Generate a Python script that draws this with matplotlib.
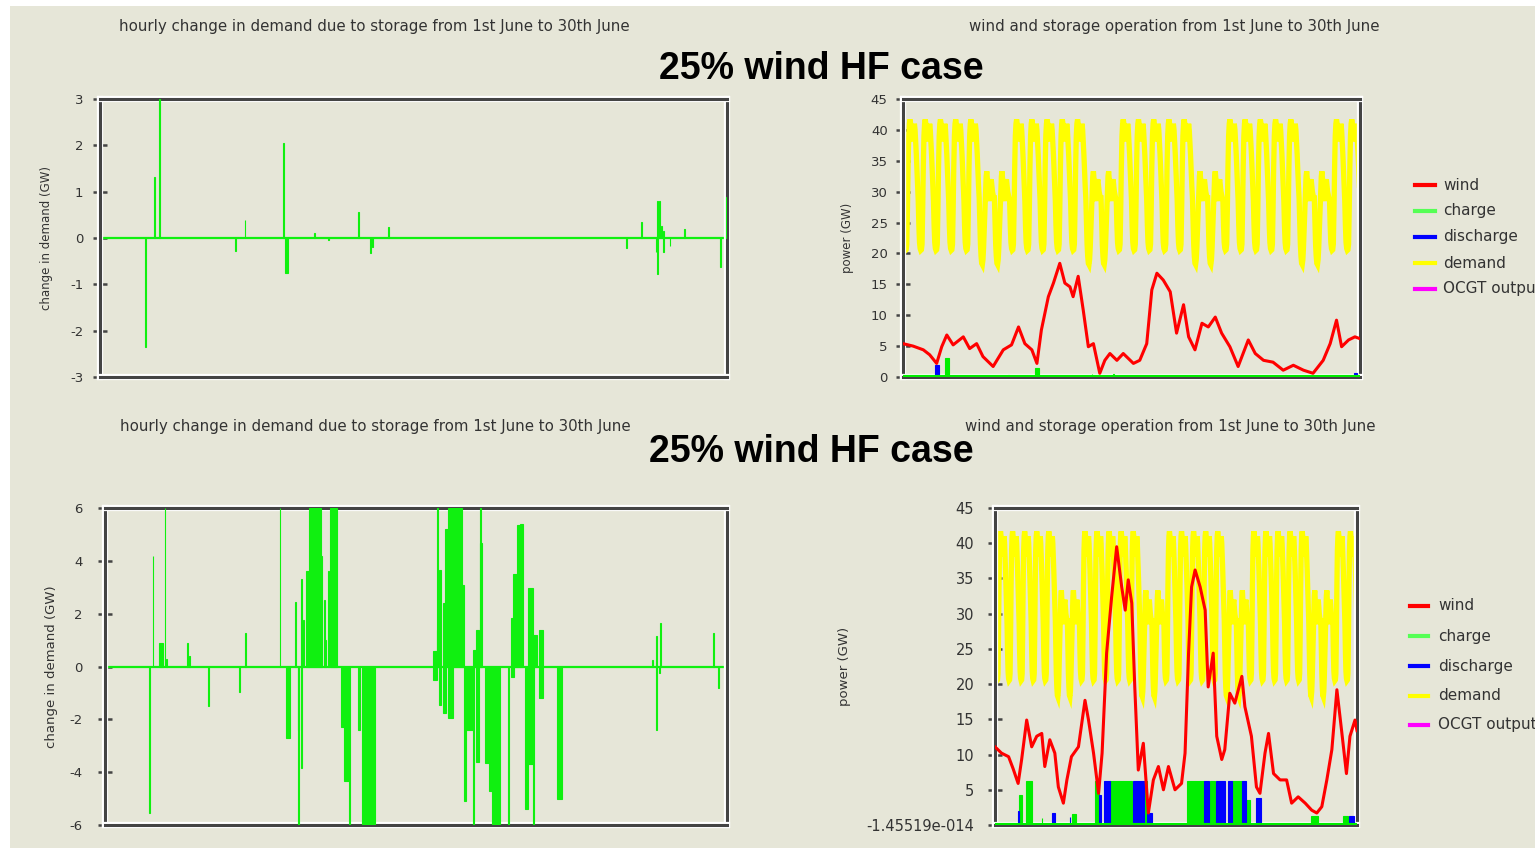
import matplotlib
matplotlib.use("Agg")
import matplotlib.pyplot as plt
import numpy as np
from matplotlib.lines import Line2D
from matplotlib.patches import Rectangle
import matplotlib.patheffects as pe

plt.rcParams["axes.unicode_minus"] = False

# ---------------------------------------------------------------- data
N_HOURS = 720  # 1st June .. 30th June, hourly

# demand (GW): typical hourly shapes for a working day and a weekend day
weekday_profile = [28.5, 24.5, 21.8, 20.8, 20.5, 20.6, 21.5, 27.0, 34.0, 39.0, 41.0, 41.7,
                   41.0, 40.0, 39.0, 38.5, 38.5, 39.5, 41.0, 40.0, 38.0, 36.0, 33.5, 31.0]
weekend_profile = [29.0, 25.0, 21.5, 19.5, 18.4, 18.2, 19.0, 21.0, 24.0, 27.5, 30.5, 32.5,
                   33.3, 32.0, 30.5, 29.0, 28.5, 29.5, 31.5, 32.0, 31.0, 30.0, 29.5, 29.0]
day_is_weekend = [0, 0, 0, 0, 0, 1, 1, 0, 0, 0, 0, 0, 1, 1, 0,
                  0, 0, 0, 0, 1, 1, 0, 0, 0, 0, 0, 1, 1, 0, 0]

# wind output (GW), upper case
wind_top_hours = [0, 16, 32, 42, 53, 61, 69, 79, 95, 105, 116, 126, 142, 158, 171, 182, 192, 203,
                  211, 218, 229, 237, 247, 255, 263, 268, 276, 284, 292, 300, 310, 318, 326, 337,
                  347, 363, 373, 384, 392, 400, 410, 421, 431, 442, 450, 460, 471, 481, 492, 502,
                  515, 528, 544, 555, 568, 583, 599, 615, 631, 646, 662, 673, 683, 691, 702, 712, 720]
wind_top_values = [5.4, 5.0, 4.4, 3.6, 2.2, 4.9, 6.8, 5.2, 6.5, 4.6, 5.4, 3.3, 1.7, 4.4, 5.2, 8.1, 5.4, 4.4,
                   2.2, 7.6, 13.0, 15.2, 18.4, 15.2, 14.6, 13.0, 16.3, 10.8, 4.9, 5.4, 0.6, 2.7, 3.8, 2.7,
                   3.8, 2.2, 2.7, 5.4, 14.1, 16.8, 15.7, 13.8, 7.1, 11.7, 6.5, 4.4, 8.7, 8.1, 9.7, 7.1,
                   4.9, 1.7, 6.0, 3.8, 2.7, 2.4, 1.1, 1.9, 1.1, 0.6, 2.7, 5.4, 9.2, 4.9, 6.0, 6.5, 6.2]

# wind output (GW), lower case
wind_bot_hours = [0, 13, 27, 36, 46, 53, 63, 73, 83, 93, 99, 109, 119, 126, 136, 143, 152, 166, 179,
                  186, 196, 206, 213, 222, 232, 242, 252, 259, 265, 272, 278, 285, 295, 305, 315, 325,
                  335, 345, 358, 371, 378, 385, 391, 398, 408, 418, 424, 434, 441, 451, 457, 467, 477,
                  491, 497, 510, 520, 527, 537, 544, 554, 567, 580, 590, 603, 617, 630, 640, 650, 660,
                  670, 680, 690, 699, 706, 716, 720]
wind_bot_values = [11.1, 10.2, 9.7, 8.0, 5.9, 9.3, 14.9, 11.1, 12.6, 13.0, 8.3, 12.1, 10.2, 5.4, 3.1,
                   6.4, 9.7, 11.1, 17.7, 14.9, 10.2, 4.5, 10.2, 24.4, 32.4, 39.5, 33.8, 30.5, 34.8, 31.5,
                   19.6, 7.8, 11.6, 1.7, 6.4, 8.3, 5.0, 8.3, 5.0, 5.9, 10.2, 24.4, 33.8, 36.2, 33.8, 30.5,
                   19.6, 24.4, 12.6, 9.3, 10.7, 18.7, 17.3, 21.1, 16.8, 12.6, 5.4, 4.5, 10.2, 13.0, 7.3,
                   6.4, 6.4, 3.1, 4.0, 3.1, 2.1, 1.7, 2.6, 6.4, 10.7, 19.2, 13.0, 7.3, 12.6, 14.9, 13.4]

# storage charge / discharge (GW) as (start hour, duration in hours, level)
charge_top_start = [66, 166, 208, 297, 331]
charge_top_len = [6, 1, 7, 1, 1]
charge_top_level = [3.0, 0.4, 1.4, 0.5, 0.5]
discharge_top_start = [51, 602, 633, 710]
discharge_top_len = [5, 1, 1, 5]
discharge_top_level = [1.9, 0.3, 0.3, 0.7]

charge_bot_start = [48, 62, 93, 154, 198, 229, 235, 249, 255, 297, 381, 398, 406, 428, 472, 499, 628, 693]
charge_bot_len = [5, 11, 1, 8, 8, 6, 14, 6, 17, 5, 17, 8, 10, 10, 19, 8, 15, 10]
charge_bot_level = [4.3, 6.2, 1.0, 1.5, 6.2, 6.2, 6.2, 6.2, 6.2, 6.2, 6.2, 6.2, 6.2, 6.2, 6.2, 3.6, 1.3, 1.3]
discharge_bot_start = [46, 113, 149, 206, 217, 275, 302, 416, 439, 463, 491, 520, 704]
discharge_bot_len = [1, 6, 1, 5, 12, 22, 10, 10, 18, 9, 8, 9, 11]
discharge_bot_level = [2.0, 1.7, 1.1, 4.2, 6.2, 6.2, 1.7, 6.2, 6.2, 6.2, 6.2, 3.8, 1.3]

# hourly change in demand due to storage (GW): (start hour, duration, value)
dd_top_start = [52, 62, 68, 155, 166, 210, 212, 246, 262, 296, 310, 312, 331, 604, 621, 638, 640,
                640, 642, 644, 647, 647, 654, 671, 712, 719]
dd_top_len = [1, 1, 1, 1, 1, 1, 4, 1, 1, 1, 1, 1, 1, 1, 1, 1, 1, 1, 1, 1, 1, 1, 1, 1, 1, 1]
dd_top_value = [-2.36, 1.32, 3.0, -0.28, 0.39, 2.05, -0.75, 0.10, -0.05, 0.56, -0.33, -0.20, 0.23,
                -0.22, 0.34, -0.30, 0.80, -0.77, 0.80, 0.25, 0.15, -0.30, -0.17, 0.20, -0.62, 0.88]

dd_bot_start = [51, 55, 63, 69, 71, 95, 97, 119, 155, 162, 202, 210, 220, 223, 223, 227, 227, 229,
                233, 236, 250, 253, 255, 258, 260, 273, 277, 283, 293, 297, 380, 380, 384, 384, 387,
                387, 391, 391, 393, 397, 397, 403, 413, 416, 418, 426, 426, 430, 430, 434, 434, 440,
                445, 448, 467, 470, 470, 472, 477, 480, 486, 490, 490, 496, 496, 502, 502, 523, 633,
                638, 638, 641, 643, 704, 710]
dd_bot_len = [1, 1, 4, 1, 1, 1, 1, 1, 1, 1, 1, 4, 1, 1, 1, 1, 1, 1,
              3, 14, 1, 2, 1, 1, 8, 4, 6, 1, 2, 15, 4, 4, 2, 2, 2,
              2, 4, 4, 4, 6, 6, 10, 3, 2, 8, 1, 4, 3, 3, 1, 2, 5,
              3, 9, 1, 4, 4, 5, 3, 4, 4, 6, 6, 1, 4, 5, 5, 6, 1,
              1, 1, 1, 1, 1, 1]
dd_bot_value = [-5.56, 4.17, 0.9, 6.0, 0.28, 0.9, 0.4, -1.5, -0.95, 1.26, 6.0, -2.7, 2.46, -6.0, -2.4,
                3.3, -3.85, 1.77, 3.6, 6.0, 4.2, 2.5, 1.0, 3.6, 6.0, -2.3, -4.35, -6.0, -2.4, -6.0,
                0.57, -0.5, 6.0, 1.39, 3.66, -1.45, -1.77, 2.4, 5.2, 6.0, -1.96, 6.0, 3.1, -5.1, -2.4,
                -6.0, 0.63, 1.39, -3.6, 6.0, 4.67, -3.66, -4.7, -6.0, -6.0, 1.83, -0.38, 3.5, 5.37,
                5.4, -5.4, 2.97, -3.7, -6.0, 1.2, 1.39, -1.2, -5.0, 0.25, 1.14, -2.4, -0.25, 1.64,
                1.26, -0.82]

top_ticks_dd = [-3, -2, -1, 0, 1, 2, 3]
bot_ticks_dd = [-6, -4, -2, 0, 2, 4, 6]
power_ticks = [0, 5, 10, 15, 20, 25, 30, 35, 40, 45]
bot_power_min = -1.45519e-14
bot_power_ticklabels = ["-1.45519e-014", "5", "10", "15", "20", "25", "30", "35", "40", "45"]

legend_labels = ["wind", "charge", "discharge", "demand", "OCGT output"]
panel_title_left = "hourly change in demand due to storage from 1st June to 30th June"
panel_title_right = "wind and storage operation from 1st June to 30th June"
case_title = "25% wind HF case"

# ---------------------------------------------------------------- style
W, H = 1535, 856
BG = "#e6e6d8"
FRAME = "#444444"
TXT = "#333333"
C_WIND = "#ff0000"
C_CHARGE = "#00ee00"
C_CHARGE_LEG = "#55ff55"
C_DIS = "#0000ff"
C_DEM = "#ffff00"
C_OCGT = "#ff00ff"
C_DD = "#10f010"

hours = np.arange(N_HOURS)
demand = np.concatenate([weekend_profile if w else weekday_profile for w in day_is_weekend])

fig = plt.figure(figsize=(W / 100, H / 100), dpi=100, facecolor="white")
fig.patches.append(Rectangle((10 / W, 8 / H), (W - 10) / W, (H - 14) / H,
                             transform=fig.transFigure, facecolor=BG, edgecolor="none", zorder=-10))


def px_axes(x0, y0, x1, y1, pad):
    ax = fig.add_axes([x0 / W, 1 - y1 / H, (x1 - x0) / W, (y1 - y0) / H])
    ax.set_facecolor(BG)
    for s in ax.spines.values():
        s.set_color(FRAME)
        s.set_linewidth(2.2)
        s.set_path_effects([pe.withStroke(linewidth=4.5, foreground="white")])
    ax.set_xlim(0, N_HOURS)
    ax.set_xticks([])
    ax.tick_params(axis="y", direction="inout", length=10, width=1.8, color=FRAME,
                   labelsize=9.5, labelcolor=TXT, pad=pad)
    return ax


def set_ylabel_px(ax, text, x_center, x0, x1, size):
    ax.set_ylabel(text, fontsize=size, color=TXT)
    ax.yaxis.set_label_coords((x_center + 6 - x0) / (x1 - x0), 0.5)


def draw_bars(ax, starts, lens, values, color, z=3):
    ax.bar(starts, values, width=lens, align="edge", color=color, edgecolor=color,
           linewidth=0.8, zorder=z)


# ---- upper left: change in demand
ax1 = px_axes(100, 99, 727, 377, pad=7)
ax1.set_ylim(-3, 3)
ax1.set_yticks(top_ticks_dd)
ax1.axhline(0, color=C_DD, lw=1.6, zorder=2)
draw_bars(ax1, dd_top_start, dd_top_len, dd_top_value, C_DD)
set_ylabel_px(ax1, "change in demand (GW)", 47, 100, 727, 8.5)

# ---- lower left: change in demand
ax3 = px_axes(105, 508, 727, 825, pad=11)
ax3.set_ylim(-6, 6)
ax3.set_yticks(bot_ticks_dd)
ax3.axhline(0, color=C_DD, lw=1.6, zorder=2)
draw_bars(ax3, dd_bot_start, dd_bot_len, dd_bot_value, C_DD)
set_ylabel_px(ax3, "change in demand (GW)", 52, 105, 727, 9.5)


def power_panel(ax, wind_h, wind_v, c_s, c_l, c_v, d_s, d_l, d_v):
    ax.plot(hours, demand, color=C_DEM, lw=3.8, zorder=2, solid_joinstyle="miter")
    ax.axhline(0, color=C_OCGT, lw=2.0, zorder=3)
    draw_bars(ax, c_s, c_l, c_v, C_CHARGE, z=4)
    draw_bars(ax, d_s, d_l, d_v, C_DIS, z=4)
    ax.axhline(0, color=C_CHARGE, lw=3.0, zorder=5)
    ax.plot(wind_h, wind_v, color=C_WIND, lw=2.2, zorder=6)


# ---- upper right: wind & storage
ax2 = px_axes(903, 99, 1360, 377, pad=6)
ax2.set_ylim(0, 45)
ax2.set_yticks(power_ticks)
power_panel(ax2, wind_top_hours, wind_top_values,
            charge_top_start, charge_top_len, charge_top_level,
            discharge_top_start, discharge_top_len, discharge_top_level)
set_ylabel_px(ax2, "power (GW)", 848, 903, 1360, 8.5)

# ---- lower right: wind & storage
ax4 = px_axes(995, 508, 1357, 825, pad=10)
ax4.set_ylim(bot_power_min, 45)
ax4.set_yticks([bot_power_min] + power_ticks[1:])
ax4.set_yticklabels(bot_power_ticklabels)
ax4.tick_params(axis="y", labelsize=10.5)
power_panel(ax4, wind_bot_hours, wind_bot_values,
            charge_bot_start, charge_bot_len, charge_bot_level,
            discharge_bot_start, discharge_bot_len, discharge_bot_level)
set_ylabel_px(ax4, "power (GW)", 845, 995, 1357, 9.5)


# ---- titles
def ftext(x, y, s, **kw):
    fig.text(x / W, 1 - y / H, s, **kw)


ftext(374, 27, panel_title_left, ha="center", va="center", fontsize=10.8, color=TXT)
ftext(1174, 27, panel_title_right, ha="center", va="center", fontsize=10.8, color=TXT)
ftext(375, 426, panel_title_left, ha="center", va="center", fontsize=10.8, color=TXT)
ftext(1170, 426, panel_title_right, ha="center", va="center", fontsize=10.8, color=TXT)
ftext(821, 69, case_title, ha="center", va="center", fontsize=27, fontweight="bold",
      family="Liberation Sans", color="black")
ftext(811, 452, case_title, ha="center", va="center", fontsize=27, fontweight="bold",
      family="Liberation Sans", color="black")

# ---- legends (the last label runs past the right edge of the sheet)
legend_colors = [C_WIND, C_CHARGE_LEG, C_DIS, C_DEM, C_OCGT]


def draw_legend(x_line0, x_line1, x_text, ys):
    for lab, col, y in zip(legend_labels, legend_colors, ys):
        fig.add_artist(Line2D([x_line0 / W, x_line1 / W], [1 - y / H, 1 - y / H],
                              color=col, lw=3.0, transform=fig.transFigure))
        ftext(x_text, y, lab, ha="left", va="center", fontsize=11, color=TXT)


draw_legend(1415, 1435, 1443, [185, 211, 237, 263, 289])
draw_legend(1410, 1428, 1438, [606, 636, 666, 696, 725])

fig.savefig("out.png", dpi=100, facecolor="white")
